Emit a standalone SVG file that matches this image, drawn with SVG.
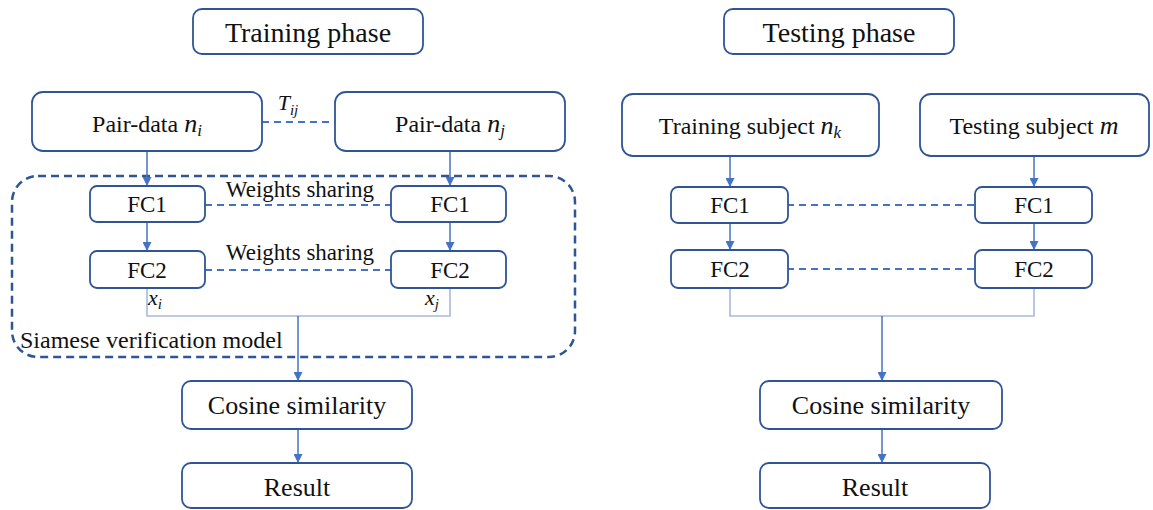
<svg xmlns="http://www.w3.org/2000/svg" width="1153" height="510" viewBox="0 0 1153 510">
  <defs>
    <marker id="arrow" viewBox="0 0 10 10" refX="10" refY="5" markerWidth="9" markerHeight="9" markerUnits="userSpaceOnUse" orient="auto">
      <path d="M0,0 L10,5 L0,10 Z" fill="#4472c4"/>
    </marker>
    <style>
      .box { fill: #ffffff; stroke: #2f5597; stroke-width: 1.8; }
      .lbl { fill: #111111; text-anchor: middle; font-family: "Liberation Serif", "Times New Roman", Times, Tinos, "Noto Serif", "DejaVu Serif", "Nimbus Roman", FreeSerif, serif; }
      .math { font-style: italic; }
      .flow { fill: none; stroke: #4472c4; stroke-width: 1.5; }
      .share { fill: none; stroke: #4472c4; stroke-width: 2; stroke-dasharray: 7 5; }
      .merge { fill: none; stroke: #a9b9d6; stroke-width: 1.6; }
      .frame { fill: none; stroke: #2f5597; stroke-width: 2.5; stroke-dasharray: 8 5; }
    </style>
  </defs>

  <rect width="1153" height="510" fill="#ffffff"/>

  <!-- dashed frame around the shared-weight branches -->
  <g id="siamese-frame">
    <rect class="frame" x="12" y="176" width="563" height="181" rx="26"/>
    <text class="lbl" x="20" y="348" font-size="24" style="text-anchor:start">Siamese verification model</text>
  </g>

  <!-- connectors -->
  <g id="connectors">
    <!-- training side -->
    <line class="flow" x1="147" y1="151" x2="147" y2="186" marker-end="url(#arrow)"/>
    <line class="flow" x1="450" y1="151" x2="450" y2="186" marker-end="url(#arrow)"/>
    <line class="flow" x1="147" y1="222" x2="147" y2="251" marker-end="url(#arrow)"/>
    <line class="flow" x1="450" y1="222" x2="450" y2="251" marker-end="url(#arrow)"/>
    <line class="share" x1="262" y1="122" x2="335" y2="122"/>
    <line class="share" x1="205" y1="205" x2="391" y2="205"/>
    <line class="share" x1="205" y1="270" x2="391" y2="270"/>
    <polyline class="merge" points="147,288 147,316 450,316 450,288"/>
    <line class="flow" x1="298" y1="316" x2="298" y2="381" stroke-width="2" marker-end="url(#arrow)"/>
    <line class="flow" x1="298" y1="429" x2="298" y2="463" marker-end="url(#arrow)"/>

    <!-- testing side -->
    <line class="flow" x1="730" y1="156" x2="730" y2="187" marker-end="url(#arrow)"/>
    <line class="flow" x1="1034" y1="156" x2="1034" y2="187" marker-end="url(#arrow)"/>
    <line class="flow" x1="730" y1="223" x2="730" y2="250" marker-end="url(#arrow)"/>
    <line class="flow" x1="1034" y1="223" x2="1034" y2="250" marker-end="url(#arrow)"/>
    <line class="share" x1="787" y1="205" x2="975" y2="205"/>
    <line class="share" x1="787" y1="269" x2="975" y2="269"/>
    <polyline class="merge" points="730,288 730,316 1034,316 1034,288"/>
    <line class="flow" x1="882" y1="316" x2="882" y2="381" stroke-width="2" marker-end="url(#arrow)"/>
    <line class="flow" x1="882" y1="429" x2="882" y2="463" marker-end="url(#arrow)"/>
  </g>

  <!-- link labels -->
  <g id="link-labels">
    <text class="lbl math" x="288" y="110" font-size="22">T<tspan font-size="15" dy="5">ij</tspan></text>
    <text class="lbl" x="300" y="197" font-size="23">Weights sharing</text>
    <text class="lbl" x="300" y="260" font-size="23">Weights sharing</text>
    <text class="lbl math" x="155" y="305" font-size="22">x<tspan font-size="15" dy="4">i</tspan></text>
    <text class="lbl math" x="432" y="305" font-size="22">x<tspan font-size="15" dy="4">j</tspan></text>
  </g>

  <!-- phase headers -->
  <g id="training-phase">
    <rect class="box" x="193" y="9" width="230" height="45" rx="9"/>
    <text class="lbl" x="308" y="42" font-size="28">Training phase</text>
  </g>
  <g id="testing-phase">
    <rect class="box" x="724" y="9" width="230" height="45" rx="9"/>
    <text class="lbl" x="839" y="42" font-size="28">Testing phase</text>
  </g>

  <!-- training branch nodes -->
  <g id="pair-data-i">
    <rect class="box" x="32" y="92" width="230" height="59" rx="11"/>
    <text class="lbl" x="147" y="132" font-size="24">Pair-data <tspan class="math" font-size="26">n</tspan><tspan class="math" font-size="17" dy="4">i</tspan></text>
  </g>
  <g id="pair-data-j">
    <rect class="box" x="335" y="92" width="230" height="59" rx="11"/>
    <text class="lbl" x="450" y="132" font-size="24">Pair-data <tspan class="math" font-size="26">n</tspan><tspan class="math" font-size="17" dy="4">j</tspan></text>
  </g>
  <g id="fc1-i">
    <rect class="box" x="90" y="186" width="115" height="36" rx="7"/>
    <text class="lbl" x="147" y="212" font-size="23">FC1</text>
  </g>
  <g id="fc1-j">
    <rect class="box" x="391" y="186" width="115" height="36" rx="7"/>
    <text class="lbl" x="450" y="212" font-size="23">FC1</text>
  </g>
  <g id="fc2-i">
    <rect class="box" x="90" y="251" width="115" height="37" rx="7"/>
    <text class="lbl" x="147" y="278" font-size="23">FC2</text>
  </g>
  <g id="fc2-j">
    <rect class="box" x="391" y="251" width="115" height="37" rx="7"/>
    <text class="lbl" x="450" y="278" font-size="23">FC2</text>
  </g>
  <g id="cosine-train">
    <rect class="box" x="182" y="381" width="230" height="48" rx="9"/>
    <text class="lbl" x="297" y="414" font-size="26">Cosine similarity</text>
  </g>
  <g id="result-train">
    <rect class="box" x="182" y="463" width="230" height="45" rx="9"/>
    <text class="lbl" x="297" y="496" font-size="26">Result</text>
  </g>

  <!-- testing branch nodes -->
  <g id="training-subject">
    <rect class="box" x="622" y="94" width="257" height="62" rx="11"/>
    <text class="lbl" x="750" y="134" font-size="24">Training subject <tspan class="math" font-size="26">n</tspan><tspan class="math" font-size="17" dy="4">k</tspan></text>
  </g>
  <g id="testing-subject">
    <rect class="box" x="920" y="94" width="229" height="62" rx="11"/>
    <text class="lbl" x="1034" y="134" font-size="24">Testing subject <tspan class="math" font-size="26">m</tspan></text>
  </g>
  <g id="fc1-k">
    <rect class="box" x="671" y="187" width="117" height="36" rx="7"/>
    <text class="lbl" x="730" y="213" font-size="23">FC1</text>
  </g>
  <g id="fc1-m">
    <rect class="box" x="975" y="187" width="117" height="36" rx="7"/>
    <text class="lbl" x="1034" y="213" font-size="23">FC1</text>
  </g>
  <g id="fc2-k">
    <rect class="box" x="671" y="250" width="117" height="38" rx="7"/>
    <text class="lbl" x="730" y="277" font-size="23">FC2</text>
  </g>
  <g id="fc2-m">
    <rect class="box" x="975" y="250" width="117" height="38" rx="7"/>
    <text class="lbl" x="1034" y="277" font-size="23">FC2</text>
  </g>
  <g id="cosine-test">
    <rect class="box" x="760" y="381" width="242" height="48" rx="9"/>
    <text class="lbl" x="881" y="414" font-size="26">Cosine similarity</text>
  </g>
  <g id="result-test">
    <rect class="box" x="760" y="463" width="230" height="45" rx="9"/>
    <text class="lbl" x="875" y="496" font-size="26">Result</text>
  </g>
</svg>
